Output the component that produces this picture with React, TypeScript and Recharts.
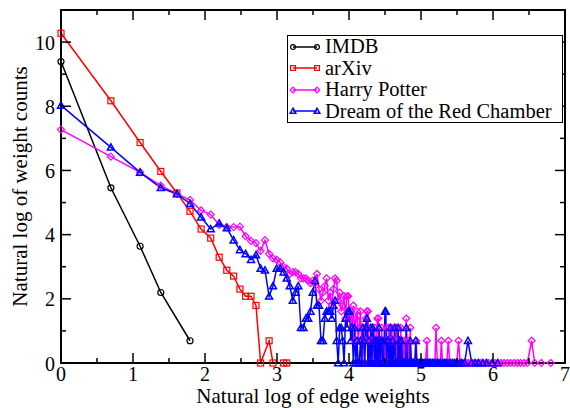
import React from "react";
import { Label, Legend, Line, LineChart, ReferenceArea, XAxis, YAxis } from "recharts";

// edge weight -> number of edges with that weight (plotted as ln/ln)
const imdbWeights = [1, 2, 3, 4, 6];
const imdbCounts = [12000, 235, 38, 9, 2];

const arxivWeights = [1, 2, 3, 4, 5, 6, 7, 8, 9, 10, 11, 12, 13, 14, 15, 16, 18, 19, 22, 23];
const arxivCounts = [29000, 3540, 963, 391, 200, 113, 65, 49, 27, 18, 15, 10, 8, 8, 6, 1, 2, 1, 1, 1];

const potterWeights = [
  1, 2, 3, 4, 5, 6, 7, 8, 9, 10, 11, 12, 13, 14, 15, 16, 17, 18, 19, 20,
  21, 22, 23, 24, 25, 26, 27, 28, 29, 30, 31, 32, 33, 34, 35, 36, 37, 38, 39, 40,
  41, 42, 43, 44, 45, 46, 47, 48, 49, 50, 51, 52, 53, 54, 55, 56, 57, 58, 59, 60,
  61, 62, 63, 64, 65, 66, 67, 68, 69, 70, 71, 72, 73, 74, 75, 76, 77, 78, 79, 80,
  81, 82, 83, 84, 85, 86, 87, 88, 89, 90, 91, 92, 93, 94, 95, 96, 97, 98, 99, 100,
  101, 102, 103, 104, 105, 106, 107, 108, 109, 110, 111, 112, 113, 114, 115, 116, 117, 118, 119, 120,
  121, 122, 123, 125, 126, 128, 129, 131, 133, 135, 137, 139, 140, 142, 144, 146, 148, 150,
  152, 155, 158, 161, 163, 166, 168, 171, 174, 177, 180, 183, 186, 190, 194, 197, 200,
  204, 208, 212, 217, 221, 226, 232, 238, 244, 250, 256, 262, 270, 278, 286, 295, 305,
  315, 326, 338, 350, 365, 380, 398, 415, 432, 450, 470, 492, 515, 540, 566, 590, 620,
  650, 690, 720, 790, 900,
];
const potterCounts = [
  1440, 620, 380, 252, 194, 161, 116, 102, 74, 69, 69, 70, 52, 45, 42, 33, 46, 30, 26, 25,
  23, 20, 19, 16, 17, 17, 16, 14, 14, 14, 13, 12, 13, 12, 16, 10, 7, 9, 11, 14,
  7, 9, 6, 10, 14, 13, 7, 9, 5, 6, 8, 4, 8, 8, 4, 5, 3, 6, 2, 4,
  5, 2, 3, 5, 2, 1, 3, 2, 4, 5, 5, 2, 1, 3, 2, 1, 2, 3, 1, 2,
  4, 4, 1, 2, 1, 3, 1, 2, 1, 1, 2, 3, 1, 1, 3, 1, 2, 1, 3, 1,
  1, 2, 3, 1, 1, 3, 1, 3, 1, 2, 1, 3, 1, 1, 2, 1, 1, 2, 1, 1,
  4, 1, 1, 2, 1, 3, 1, 1, 1, 1, 1, 2, 1, 1, 1, 1, 1, 1,
  1, 1, 1, 2, 1, 1, 1, 1, 1, 1, 1, 3, 1, 1, 1, 2, 1,
  1, 1, 1, 2, 1, 1, 1, 1, 1, 2, 1, 1, 1, 1, 1, 1, 1,
  1, 1, 1, 1, 1, 1, 1, 1, 1, 1, 1, 1, 1, 1, 1, 1, 1,
  1, 2, 1, 1, 1,
];

const dreamWeights = [
  1, 2, 3, 4, 5, 6, 7, 8, 9, 10, 11, 12, 13, 14, 15, 16, 17, 18, 19, 20,
  21, 22, 23, 24, 25, 26, 27, 28, 29, 30, 31, 32, 33, 34, 35, 36, 37, 38, 39, 40,
  41, 42, 43, 44, 45, 46, 47, 48, 49, 50, 51, 52, 53, 54, 55, 56, 57, 58, 59, 60,
  61, 62, 63, 64, 65, 66, 67, 68, 69, 70, 71, 72, 73, 74, 75, 76, 77, 78, 79, 80,
  81, 82, 83, 84, 85, 86, 87, 88, 89, 90, 91, 92, 93, 94, 95, 96, 97, 98, 99, 100,
  101, 103, 104, 105, 107, 108, 109, 110, 112, 113, 115, 117, 118, 120, 121, 123, 124, 127, 128, 130,
  132, 134, 136, 138, 140, 142, 145, 147, 150, 152, 155, 158, 161, 164, 167, 170, 174, 178, 182, 186,
  190, 195, 200, 205, 210, 216, 223, 230, 237, 245, 253, 262, 272, 285, 300, 315, 330, 350, 370, 400,
  430,
];
const dreamCounts = [
  3070, 830, 380, 235, 194, 143, 94, 65, 78, 67, 46, 34, 30, 25, 29, 19, 18, 8, 11, 19,
  19, 17, 14, 11, 7, 9, 11, 3, 3, 4, 4, 5, 9, 13, 6, 6, 2, 2, 4, 5,
  5, 5, 4, 6, 7, 2, 1, 3, 3, 2, 1, 4, 3, 5, 5, 2, 3, 1, 3, 1,
  2, 1, 1, 2, 1, 3, 2, 1, 3, 4, 1, 2, 1, 3, 1, 3, 2, 1, 2, 1,
  2, 1, 3, 1, 2, 2, 1, 1, 2, 5, 5, 1, 2, 2, 1, 1, 3, 1, 1, 2,
  1, 3, 1, 1, 1, 3, 1, 2, 1, 2, 1, 1, 1, 1, 3, 1, 1, 1, 2, 1,
  1, 1, 1, 2, 1, 1, 1, 1, 1, 1, 1, 1, 1, 1, 1, 1, 1, 1, 1, 1,
  1, 1, 1, 1, 1, 1, 1, 1, 1, 1, 1, 1, 1, 2, 1, 1, 1, 1, 1, 1,
  1,
];

const xTicks = [0, 0.5, 1, 1.5, 2, 2.5, 3, 3.5, 4, 4.5, 5, 5.5, 6, 6.5, 7];
const yTicks = [0, 1, 2, 3, 4, 5, 6, 7, 8, 9, 10];

const toLogLog = (weights: number[], counts: number[]) =>
  weights.map((w, i) => ({ x: Math.log(w), y: Math.log(counts[i]) }));

const series = [
  { name: "IMDB", color: "#000000", shape: "circle", data: toLogLog(imdbWeights, imdbCounts) },
  { name: "arXiv", color: "#ff0000", shape: "square", data: toLogLog(arxivWeights, arxivCounts) },
  { name: "Harry Potter", color: "#ff00ff", shape: "diamond", data: toLogLog(potterWeights, potterCounts) },
  { name: "Dream of the Red Chamber", color: "#0000ff", shape: "triangle", data: toLogLog(dreamWeights, dreamCounts) },
];

const W = 570;
const H = 408;
const MARGIN = { top: 10, right: 5, left: 0, bottom: 0 };
const PLOT_TOP = MARGIN.top;
const PLOT_RIGHT = W - MARGIN.right;
const FONT = "'Liberation Serif', 'Times New Roman', serif";

function Marker({ shape, cx, cy, color, s = 1 }: any) {
  const common = { fill: "none", stroke: color, strokeWidth: 1.2 };
  if (shape === "circle") return <circle cx={cx} cy={cy} r={3 * s} {...common} />;
  if (shape === "square")
    return <rect x={cx - 3 * s} y={cy - 3 * s} width={6 * s} height={6 * s} {...common} />;
  const r = 3.5 * s;
  if (shape === "diamond")
    return <polygon points={`${cx},${cy - r} ${cx + r},${cy} ${cx},${cy + r} ${cx - r},${cy}`} {...common} />;
  return (
    <polygon
      points={`${cx},${cy - r} ${cx + r},${cy + r * 0.8} ${cx - r},${cy + r * 0.8}`}
      fill="none"
      stroke={color}
      strokeWidth={1.5}
    />
  );
}

function XTick(props: any) {
  const { x, y, payload } = props;
  const major = Number.isInteger(payload.value);
  const len = major ? 10 : 5;
  return (
    <g>
      <line x1={x} x2={x} y1={y} y2={y - len} stroke="#000" strokeWidth={1.5} />
      <line x1={x} x2={x} y1={PLOT_TOP} y2={PLOT_TOP + len} stroke="#000" strokeWidth={1.5} />
      {major && (
        <text x={x} y={y + 18} textAnchor="middle" fontSize={20} fontFamily={FONT} fill="#000">
          {payload.value}
        </text>
      )}
    </g>
  );
}

function YTick(props: any) {
  const { x, y, payload } = props;
  const major = payload.value % 2 === 0;
  const len = major ? 10 : 5;
  return (
    <g>
      <line x1={x} x2={x + len} y1={y} y2={y} stroke="#000" strokeWidth={1.5} />
      <line x1={PLOT_RIGHT - len} x2={PLOT_RIGHT} y1={y} y2={y} stroke="#000" strokeWidth={1.5} />
      {major && (
        <text x={x - 6} y={y + 7.5} textAnchor="end" fontSize={20} fontFamily={FONT} fill="#000">
          {payload.value}
        </text>
      )}
    </g>
  );
}

function LegendBox() {
  return (
    <div
      style={{
        border: "1.5px solid #000",
        background: "#fff",
        boxSizing: "border-box",
        width: 276,
        height: 88,
        fontFamily: FONT,
        fontSize: 20.5,
        color: "#000",
      }}
    >
      {series.map((s) => (
        <div key={s.name} style={{ display: "flex", alignItems: "center", height: 21.5, lineHeight: "21.5px" }}>
          <svg width={36} height={12} style={{ flex: "none" }}>
            <line x1={5} x2={29} y1={6} y2={6} stroke={s.color} strokeWidth={1.5} />
            <Marker shape={s.shape} cx={5} cy={6} color={s.color} s={0.8} />
            <Marker shape={s.shape} cx={29} cy={6} color={s.color} s={0.8} />
          </svg>
          <span style={{ whiteSpace: "nowrap", marginLeft: 1 }}>{s.name}</span>
        </div>
      ))}
    </div>
  );
}

export default function App() {
  return (
    <div style={{ position: "absolute", left: 0, top: 0, width: W, height: H, background: "#fff" }}>
      <LineChart width={W} height={H} margin={MARGIN}>
        <XAxis
          type="number"
          dataKey="x"
          domain={[0, 7]}
          ticks={xTicks}
          interval={0}
          tick={(p: any) => <XTick {...p} />}
          tickLine={false}
          tickSize={0}
          tickMargin={0}
          axisLine={{ stroke: "#000", strokeWidth: 2 }}
          height={45}
        >
          <Label
            content={(p: any) => {
              const vb = p.viewBox;
              return (
                <text x={vb.x + vb.width / 2} y={vb.y + 40} textAnchor="middle" fontSize={21} fontFamily={FONT} fill="#000">
                  Natural log of edge weights
                </text>
              );
            }}
          />
        </XAxis>
        <YAxis
          type="number"
          dataKey="y"
          domain={[0, 11]}
          ticks={yTicks}
          interval={0}
          tick={(p: any) => <YTick {...p} />}
          tickLine={false}
          tickSize={0}
          tickMargin={0}
          axisLine={{ stroke: "#000", strokeWidth: 2 }}
          width={61}
        >
          <Label
            content={(p: any) => {
              const vb = p.viewBox;
              const cy = vb.y + vb.height / 2;
              return (
                <text
                  x={27}
                  y={cy}
                  transform={`rotate(-90, 27, ${cy})`}
                  textAnchor="middle"
                  fontSize={21}
                  fontFamily={FONT}
                  fill="#000"
                >
                  Natural log of weight counts
                </text>
              );
            }}
          />
        </YAxis>
        <ReferenceArea x1={0} x2={7} y1={0} y2={11} fill="none" stroke="#000" strokeWidth={2} />
        {series.map((s) => (
          <Line
            key={s.name}
            name={s.name}
            data={s.data}
            dataKey="y"
            type="linear"
            stroke={s.color}
            strokeWidth={1.5}
            isAnimationActive={false}
            dot={(p: any) => <Marker key={`${s.name}-${p.index}`} shape={s.shape} cx={p.cx} cy={p.cy} color={s.color} />}
            activeDot={false}
          />
        ))}
        <Legend
          layout="vertical"
          align="center"
          verticalAlign="middle"
          wrapperStyle={{ left: 287, top: 35, width: 276, height: 88 }}
          content={() => <LegendBox />}
        />
      </LineChart>
    </div>
  );
}
